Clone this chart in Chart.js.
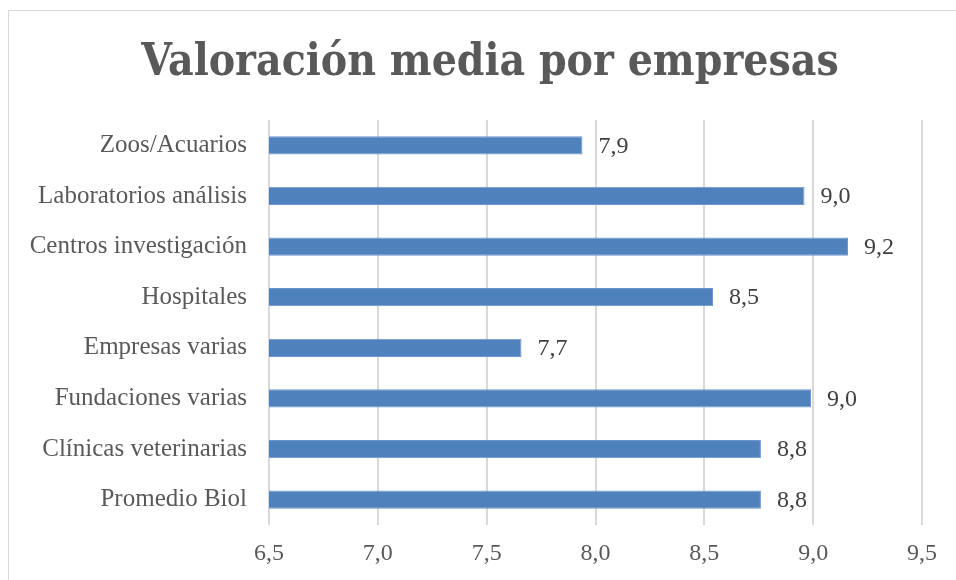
<!DOCTYPE html>
<html>
<head>
<meta charset="utf-8">
<script src="https://cdn.jsdelivr.net/npm/chart.js@4"></script>
<style>
  html, body { margin: 0; padding: 0; background: #ffffff; overflow: hidden; }
  #frame { position: absolute; left: 8px; top: 10px; width: 980px; height: 600px; border: 1px solid #d9d9d9; box-sizing: border-box; }
  #wrap { position: absolute; left: 0; top: 0; width: 956px; height: 580px; }
</style>
</head>
<body>
<div id="frame"></div>
<div id="wrap"><canvas id="c" width="956" height="580"></canvas></div>
<script>
const title = 'Valoración media por empresas';
const categories = ['Zoos/Acuarios', 'Laboratorios análisis', 'Centros investigación', 'Hospitales', 'Empresas varias', 'Fundaciones varias', 'Clínicas veterinarias', 'Promedio Biol'];
const values = [7.94, 8.96, 9.16, 8.54, 7.66, 8.99, 8.76, 8.76];
const axisMin = 6.5;
const axisMax = 9.5;
const axisStep = 0.5;

const fmt = v => v.toFixed(1).replace('.', ',');
const serif = "'Liberation Serif', 'DejaVu Serif', serif";
const titleFont = "'DejaVu Serif Condensed', 'DejaVu Serif', serif";

const dataLabels = {
  id: 'dataLabels',
  afterDatasetsDraw(chart) {
    const ctx = chart.ctx;
    const meta = chart.getDatasetMeta(0);
    ctx.save();
    ctx.font = '24px ' + serif;
    ctx.fillStyle = '#404040';
    ctx.textAlign = 'left';
    ctx.textBaseline = 'middle';
    meta.data.forEach((el, i) => {
      ctx.fillText(fmt(values[i]), el.x + 16, el.y + 1);
    });
    ctx.restore();
  }
};

const chartTitle = {
  id: 'chartTitle',
  afterDraw(chart) {
    const ctx = chart.ctx;
    ctx.save();
    ctx.font = 'bold 44px ' + titleFont;
    ctx.fillStyle = '#595959';
    ctx.textAlign = 'center';
    ctx.textBaseline = 'alphabetic';
    ctx.fillText(title, 490, 75);
    ctx.restore();
  }
};

new Chart(document.getElementById('c'), {
  type: 'bar',
  data: {
    labels: categories,
    datasets: [{
      data: values,
      backgroundColor: '#4f81bd',
      borderColor: '#6d97cc',
      borderWidth: 1,
      barPercentage: 0.36,
      categoryPercentage: 1.0
    }]
  },
  options: {
    indexAxis: 'y',
    responsive: false,
    animation: false,
    layout: { padding: { left: 20, right: 34, top: 120, bottom: 10 } },
    plugins: {
      legend: { display: false },
      tooltip: { enabled: false },
      title: { display: false }
    },
    scales: {
      x: {
        min: axisMin,
        max: axisMax,
        grid: { color: '#d9d9d9', lineWidth: 2, drawTicks: false },
        border: { display: false },
        ticks: {
          stepSize: axisStep,
          color: '#595959',
          font: { family: serif, size: 24 },
          padding: 14,
          callback: v => fmt(v)
        },
        afterFit(scale) { scale.height = 45; }
      },
      y: {
        grid: { display: false, drawTicks: false },
        border: { display: false },
        ticks: {
          color: '#595959',
          font: { family: serif, size: 25 },
          padding: 22
        },
        afterFit(scale) { scale.width = 249; }
      }
    }
  },
  plugins: [dataLabels, chartTitle]
});
</script>
</body>
</html>
